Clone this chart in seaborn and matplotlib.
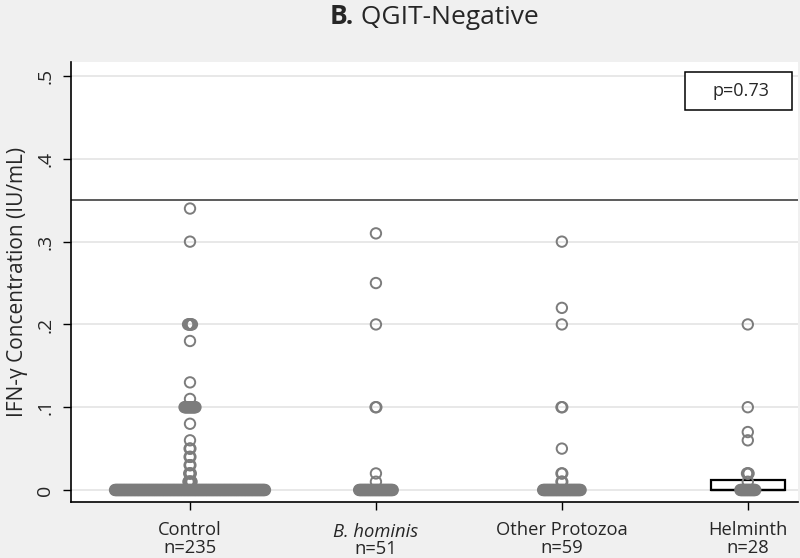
import numpy as np
import pandas as pd
import matplotlib
matplotlib.use("Agg")
import matplotlib.pyplot as plt
from matplotlib.patches import Rectangle
import seaborn as sns

# values: (value, count) per group
groups = ["Control", "B. hominis", "Other Protozoa", "Helminth"]
group_n = [235, 51, 59, 28]

control_vals = [0.00, 0.01, 0.02, 0.03, 0.04, 0.05, 0.06, 0.08, 0.10, 0.11, 0.13, 0.18, 0.20, 0.30, 0.34]
control_cnts = [193, 5, 3, 2, 2, 2, 1, 1, 15, 1, 1, 1, 6, 1, 1]

bhominis_vals = [0.00, 0.01, 0.02, 0.10, 0.20, 0.25, 0.31]
bhominis_cnts = [44, 1, 1, 2, 1, 1, 1]

protozoa_vals = [0.00, 0.01, 0.02, 0.05, 0.10, 0.20, 0.22, 0.30]
protozoa_cnts = [49, 2, 2, 1, 2, 1, 1, 1]

helminth_vals = [0.00, 0.01, 0.02, 0.06, 0.07, 0.10, 0.20]
helminth_cnts = [20, 1, 3, 1, 1, 1, 1]

cutoff = 0.35
p_text = "p=0.73"

yticks = [0, 0.1, 0.2, 0.3, 0.4, 0.5]
ytick_labels = ["0", ".1", ".2", ".3", ".4", ".5"]

# long table; identical values are stacked side by side
STEP = 0.0042
rows = []
for gi, (vals, cnts) in enumerate([(control_vals, control_cnts), (bhominis_vals, bhominis_cnts),
                                   (protozoa_vals, protozoa_cnts), (helminth_vals, helminth_cnts)]):
    for v, c in zip(vals, cnts):
        offs = (np.arange(c) - (c - 1) / 2) * STEP
        for o in offs:
            rows.append({"group": groups[gi], "pos": gi + o, "ifn": v})
df = pd.DataFrame(rows)

sns.set_style("white")
plt.rcParams['font.family'] = ['Open Sans', 'DejaVu Sans']

fig = plt.figure(figsize=(8, 5.58), dpi=100)
fig.patch.set_facecolor("#f0f0f0")
ax = fig.add_axes([71 / 800, 1 - 502 / 558, 727 / 800, 440 / 558])
ax.set_facecolor("white")

for t in yticks:
    ax.axhline(t, color="#e4e4e4", lw=1.2, zorder=0)
ax.axhline(cutoff, color="#404040", lw=1.2, zorder=1)

# box only where the IQR is not zero
hel = df[df["group"] == "Helminth"]
sns.boxplot(data=hel, x="group", y="ifn", order=groups, width=0.4, whis=0,
            showfliers=False, showcaps=False, color="white",
            boxprops=dict(edgecolor="black", linewidth=1.6, facecolor="white"),
            medianprops=dict(color="black", linewidth=1.6),
            whiskerprops=dict(linewidth=0), ax=ax, zorder=2)

sns.scatterplot(data=df, x="pos", y="ifn", ax=ax, marker="o", s=56,
                facecolors="none", edgecolor="#7c7c7c", linewidth=1.4, zorder=3)

FS = 13.2
ax.set_xlim(-0.64, 3.27)
ax.set_ylim(-0.0145, 0.517)
ax.set_xticks(range(len(groups)))
# B. hominis gets its own italic label below
ax.set_xticklabels([f"{g}\nn={n}" if i != 1 else "" for i, (g, n) in enumerate(zip(groups, group_n))],
                   fontsize=FS, linespacing=0.95)
ax.annotate("B. hominis", xy=(1, 0), xycoords=("data", "axes fraction"),
            xytext=(0, -15.2), textcoords="offset points", ha="center", va="top",
            fontsize=FS, fontstyle="italic")
ax.annotate("n=51", xy=(1, 0), xycoords=("data", "axes fraction"),
            xytext=(0, -27.4), textcoords="offset points", ha="center", va="top",
            fontsize=FS)
ax.set_yticks(yticks)
ax.set_yticklabels(ytick_labels, fontsize=14, rotation=90, va="center")
ax.tick_params(axis="both", direction="out", length=6, width=1, color="black",
               left=True, bottom=True)
ax.tick_params(axis="x", pad=8)
ax.tick_params(axis="y", pad=6)
ax.set_xlabel("")
ax.set_ylabel("IFN-γ Concentration (IU/mL)", fontsize=15, labelpad=6)

for side in ["top", "right"]:
    ax.spines[side].set_visible(False)
for side in ["left", "bottom"]:
    ax.spines[side].set_color("black")
    ax.spines[side].set_linewidth(1.2)

# p-value box
bx0, bx1 = (685 - 71) / 727, (792 - 71) / 727
by0, by1 = (502 - 110) / 440, (502 - 72) / 440
ax.add_patch(Rectangle((bx0, by0), bx1 - bx0, by1 - by0, transform=ax.transAxes,
                       facecolor="white", edgecolor="black", linewidth=1.1, zorder=5))
ax.text((bx0 + bx1) / 2 + 0.004, (by0 + by1) / 2, p_text, transform=ax.transAxes,
        ha="center", va="center", fontsize=13, zorder=6)

# title: bold "B." followed by regular text
fig.canvas.draw()
r = fig.canvas.get_renderer()
t1 = fig.text(0, 1 - 17 / 558, "B.", fontsize=19, fontweight="bold", va="center")
t2 = fig.text(0, 1 - 17 / 558, " QGIT-Negative", fontsize=19, va="center")
w1 = t1.get_window_extent(r).width
w2 = t2.get_window_extent(r).width
x0 = 434 - (w1 + w2) / 2
t1.set_x(x0 / 800)
t2.set_x((x0 + w1) / 800)

fig.savefig("out.png", dpi=100, facecolor=fig.get_facecolor())
